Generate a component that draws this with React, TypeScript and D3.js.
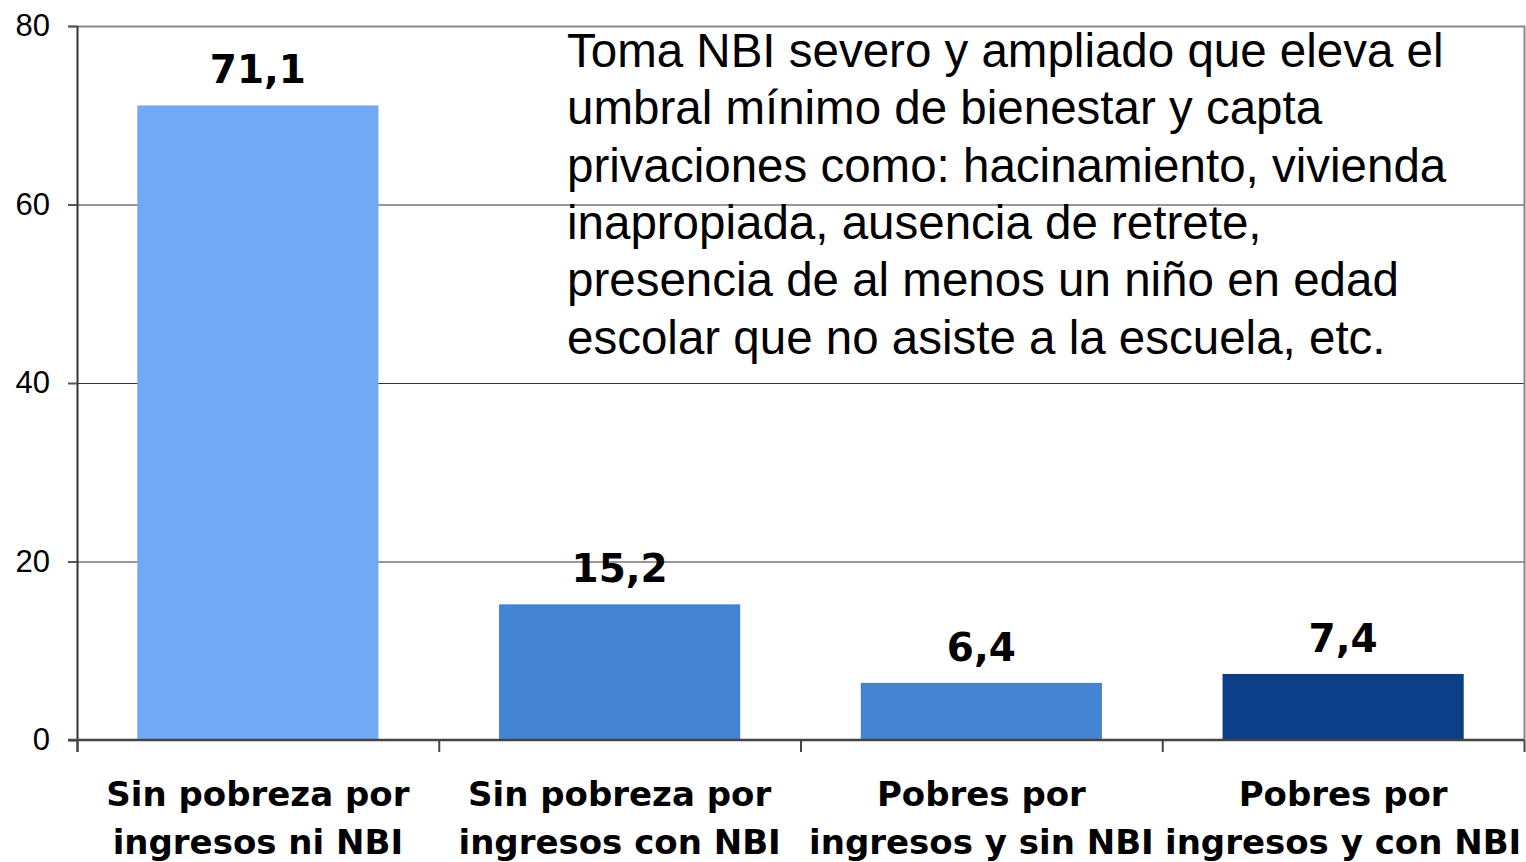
import { useEffect, useRef } from "react";
import * as d3 from "d3";

const categories = [
  ["Sin pobreza por", "ingresos ni NBI"],
  ["Sin pobreza por", "ingresos con NBI"],
  ["Pobres por", "ingresos y sin NBI"],
  ["Pobres por", "ingresos y con NBI"],
];
const values = [71.1, 15.2, 6.4, 7.4];
const barColors = ["#71A9F7", "#4584D3", "#4584D3", "#0B3F87"];
const yTicks = [0, 20, 40, 60, 80];
const noteLines = [
  "Toma NBI severo y ampliado que eleva el",
  "umbral mínimo de bienestar y capta",
  "privaciones como: hacinamiento, vivienda",
  "inapropiada, ausencia de retrete,",
  "presencia de al menos un niño en edad",
  "escolar que no asiste a la escuela, etc.",
];

function App() {
  const ref = useRef<SVGSVGElement>(null);

  useEffect(() => {
    const svg = d3.select(ref.current);
    svg.selectAll("*").remove();

    const width = 1526;
    const height = 862;
    const margin = { top: 26, right: 2, bottom: 122, left: 77 };
    const boldFont = "'DejaVu Sans', sans-serif";

    const keys = categories.map((_, i) => String(i));
    const x = d3
      .scaleBand()
      .domain(keys)
      .range([margin.left, width - margin.right])
      .paddingInner(1 / 3)
      .paddingOuter(1 / 6);
    const bands = d3
      .scaleBand()
      .domain(keys)
      .range([margin.left, width - margin.right]);

    const y = d3
      .scaleLinear()
      .domain([0, 80])
      .range([height - margin.bottom, margin.top]);

    // grid lines
    svg
      .append("g")
      .selectAll("line")
      .data(yTicks.filter((t) => t > 0 && t < 80))
      .enter()
      .append("line")
      .attr("x1", margin.left)
      .attr("x2", width - margin.right)
      .attr("y1", (d) => y(d) + 0.5)
      .attr("y2", (d) => y(d) + 0.5)
      .attr("stroke", "#333")
      .attr("stroke-width", 1.2);

    // frame top & right
    svg
      .append("path")
      .attr(
        "d",
        `M${margin.left - 9},${y(80) + 0.5}H${width - margin.right + 0.5}V${y(0)}`
      )
      .attr("fill", "none")
      .attr("stroke", "#888")
      .attr("stroke-width", 2);

    // bars
    svg
      .selectAll("rect.bar")
      .data(values)
      .enter()
      .append("rect")
      .attr("class", "bar")
      .attr("x", (_, i) => x(String(i))!)
      .attr("y", (d) => y(d))
      .attr("width", x.bandwidth())
      .attr("height", (d) => y(0) - y(d))
      .attr("fill", (_, i) => barColors[i]);

    // value labels
    svg
      .selectAll("text.val")
      .data(values)
      .enter()
      .append("text")
      .attr("class", "val")
      .attr("x", (_, i) => x(String(i))! + x.bandwidth() / 2)
      .attr("y", (d) => y(d) - 22)
      .attr("text-anchor", "middle")
      .attr("font-family", boldFont)
      .attr("font-weight", "bold")
      .attr("font-size", 39)
      .attr("fill", "#000")
      .text((d) => d.toFixed(1).replace(".", ","));

    // y axis
    const yAxis = svg
      .append("g")
      .attr("transform", `translate(${margin.left},0)`)
      .call(d3.axisLeft(y).tickValues(yTicks).tickSize(9).tickPadding(18));
    yAxis.select(".domain").attr("stroke", "#333").attr("stroke-width", 2)
      .attr("d", `M0.5,${y(80)}V${y(0) + 12}`);
    yAxis.selectAll(".tick line").attr("stroke", "#555").attr("stroke-width", 2);
    yAxis
      .selectAll(".tick text")
      .attr("font-family", "'Liberation Sans', Arial, sans-serif")
      .attr("font-size", 31)
      .attr("fill", "#000");

    // x axis
    const xAxisG = svg.append("g").attr("transform", `translate(0,${y(0)})`);
    xAxisG
      .append("line")
      .attr("x1", margin.left - 9)
      .attr("x2", width - margin.right)
      .attr("y1", 0)
      .attr("y2", 0)
      .attr("stroke", "#444")
      .attr("stroke-width", 2.5);
    xAxisG
      .selectAll("line.tick")
      .data([...keys.map((k) => bands(k)!), width - margin.right])
      .enter()
      .append("line")
      .attr("class", "tick")
      .attr("x1", (d) => d + 0.5)
      .attr("x2", (d) => d + 0.5)
      .attr("y1", 0)
      .attr("y2", 12)
      .attr("stroke", "#444")
      .attr("stroke-width", 2);

    const cat = xAxisG
      .selectAll("text.cat")
      .data(categories)
      .enter()
      .append("text")
      .attr("class", "cat")
      .attr("text-anchor", "middle")
      .attr("font-family", boldFont)
      .attr("font-weight", "bold")
      .attr("font-size", 34)
      .attr("fill", "#000");
    cat
      .selectAll("tspan")
      .data((d, i) => d.map((line) => ({ line, i })))
      .enter()
      .append("tspan")
      .attr("x", (d) => bands(String(d.i))! + bands.bandwidth() / 2)
      .attr("y", (_, j) => 66 + j * 48)
      .text((d) => d.line);

    // note
    svg
      .append("text")
      .attr("font-family", "'Liberation Sans', Arial, sans-serif")
      .attr("font-size", 47.5)
      .attr("fill", "#000")
      .selectAll("tspan")
      .data(noteLines)
      .enter()
      .append("tspan")
      .attr("x", 567)
      .attr("y", (_, i) => 67 + i * 57.3)
      .text((d) => d);
  }, []);

  return (
    <svg
      ref={ref}
      width={1526}
      height={862}
      style={{ position: "absolute", left: 0, top: 0, background: "#fff" }}
    />
  );
}

export default App;
